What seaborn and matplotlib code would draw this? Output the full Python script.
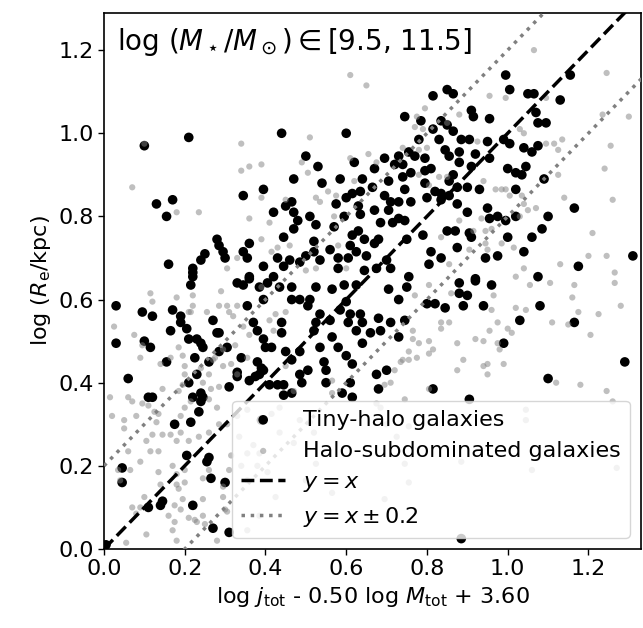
import numpy as np
import matplotlib
matplotlib.use("Agg")
import matplotlib.pyplot as plt
import seaborn as sns

# (x, y): x = log j_tot - 0.50 log M_tot + 3.60, y = log(Re/kpc)
tiny_halo = np.array([
    (0.10, 0.97), (0.21, 0.99), (0.44, 1.00), (0.60, 1.00), (0.50, 0.945), (0.53, 0.92),
    (0.62, 0.93), (0.47, 0.89), (0.54, 0.88), (0.585, 0.89), (0.395, 0.865), (0.345, 0.85),
    (0.13, 0.83), (0.17, 0.84), (0.155, 0.80), (0.42, 0.81), (0.45, 0.825), (0.465, 0.835),
    (0.47, 0.81), (0.48, 0.79), (0.51, 0.80), (0.525, 0.78), (0.47, 0.77), (0.445, 0.75),
    (0.52, 0.74), (0.57, 0.775), (0.575, 0.83), (0.60, 0.845), (0.595, 0.80), (0.615, 0.855),
    (0.635, 0.86), (0.64, 0.89), (0.63, 0.825), (0.635, 0.805), (0.28, 0.745), (0.285, 0.73),
    (0.295, 0.715), (0.30, 0.70), (0.25, 0.71), (0.24, 0.695), (0.22, 0.675), (0.16, 0.685),
    (0.36, 0.735), (0.345, 0.715), (0.355, 0.70), (0.395, 0.68), (0.43, 0.70), (0.445, 0.68),
    (0.46, 0.695), (0.485, 0.69), (0.50, 0.705), (0.52, 0.715), (0.535, 0.695), (0.56, 0.72),
    (0.58, 0.70), (0.605, 0.70), (0.58, 0.675), (0.61, 0.73), (0.625, 0.715), (0.615, 0.755),
    (0.63, 0.765), (0.645, 0.745), (0.65, 0.705), (0.645, 0.67), (0.36, 0.655), (0.42, 0.655),
    (0.995, 1.14), (1.155, 1.14), (1.005, 1.105), (0.85, 1.105), (0.865, 1.095), (0.815, 1.09),
    (1.05, 1.095), (1.065, 1.095), (1.13, 1.08), (0.91, 1.055), (0.915, 1.04), (0.955, 1.035),
    (0.745, 1.04), (1.07, 1.05), (1.075, 1.025), (1.095, 1.025), (0.785, 1.03), (0.835, 1.03),
    (0.85, 1.02), (0.815, 1.01), (0.865, 1.005), (0.885, 0.985), (0.905, 0.985), (0.83, 0.985),
    (0.78, 0.985), (0.95, 0.98), (0.99, 0.985), (1.005, 0.975), (1.075, 0.97), (1.04, 0.965),
    (1.06, 0.955), (0.755, 0.955), (0.77, 0.945), (0.73, 0.945), (0.795, 0.94), (0.845, 0.96),
    (0.855, 0.945), (0.88, 0.955), (0.88, 0.93), (0.92, 0.95), (0.91, 0.92), (0.955, 0.94),
    (1.045, 0.92), (1.00, 0.915), (1.02, 0.905), (1.035, 0.90), (1.09, 0.89), (0.81, 0.915),
    (0.795, 0.91), (0.76, 0.905), (0.74, 0.925), (0.72, 0.925), (0.67, 0.915), (0.695, 0.94),
    (0.74, 0.895), (0.705, 0.885), (0.865, 0.90), (0.855, 0.885), (0.795, 0.88), (0.80, 0.845),
    (0.82, 0.86), (0.835, 0.855), (0.835, 0.84), (0.855, 0.85), (0.875, 0.83), (0.90, 0.81),
    (0.875, 0.87), (0.90, 0.87), (0.93, 0.865), (1.02, 0.865), (0.95, 0.82), (0.955, 0.795),
    (0.975, 0.80), (0.995, 0.79), (1.02, 0.80), (1.10, 0.80), (1.165, 0.82), (1.31, 0.705),
    (1.175, 0.68), (1.085, 0.77), (1.06, 0.75), (1.04, 0.715), (0.975, 0.705), (0.945, 0.70),
    (0.875, 0.725), (0.91, 0.75), (0.905, 0.76), (0.87, 0.765), (0.85, 0.765), (1.00, 0.75),
    (1.075, 0.655), (0.92, 0.65), (0.81, 0.715), (0.835, 0.70), (0.805, 0.685), (0.755, 0.655),
    (0.71, 0.675), (0.70, 0.695), (0.75, 0.745), (0.745, 0.79), (0.73, 0.795), (0.705, 0.815),
    (0.715, 0.785), (0.685, 0.785), (0.67, 0.815), (0.68, 0.745), (0.67, 0.735), (0.695, 0.85),
    (0.71, 0.835), (0.73, 0.835), (0.76, 0.835), (0.745, 0.865), (0.665, 0.87), (0.79, 0.755),
    (0.675, 0.675), (0.03, 0.585), (0.03, 0.495), (0.06, 0.41), (0.045, 0.195), (0.045, 0.16),
    (0.095, 0.57), (0.12, 0.56), (0.10, 0.50), (0.11, 0.365), (0.12, 0.365), (0.155, 0.45),
    (0.165, 0.525), (0.17, 0.575), (0.19, 0.56), (0.19, 0.545), (0.205, 0.53), (0.21, 0.505),
    (0.23, 0.505), (0.24, 0.495), (0.245, 0.485), (0.225, 0.46), (0.285, 0.475), (0.26, 0.45),
    (0.27, 0.55), (0.285, 0.52), (0.305, 0.485), (0.21, 0.40), (0.22, 0.365), (0.24, 0.375),
    (0.245, 0.365), (0.24, 0.355), (0.235, 0.33), (0.215, 0.305), (0.175, 0.30), (0.205, 0.225),
    (0.255, 0.21), (0.26, 0.22), (0.265, 0.17), (0.30, 0.16), (0.22, 0.105), (0.14, 0.105),
    (0.11, 0.10), (0.145, 0.115), (0.27, 0.05), (0.31, 0.04), (0.31, 0.39), (0.34, 0.46),
    (0.33, 0.415), (0.36, 0.405), (0.355, 0.585), (0.37, 0.545), (0.38, 0.525), (0.395, 0.505),
    (0.40, 0.485), (0.38, 0.45), (0.39, 0.435), (0.395, 0.43), (0.375, 0.415), (0.39, 0.31),
    (0.41, 0.395), (0.43, 0.395), (0.445, 0.395), (0.445, 0.37), (0.465, 0.375), (0.44, 0.545),
    (0.44, 0.52), (0.415, 0.485), (0.45, 0.475), (0.465, 0.455), (0.485, 0.475), (0.485, 0.42),
    (0.49, 0.40), (0.505, 0.43), (0.52, 0.525), (0.525, 0.545), (0.535, 0.565), (0.51, 0.60),
    (0.525, 0.63), (0.535, 0.485), (0.545, 0.45), (0.55, 0.43), (0.55, 0.40), (0.58, 0.485),
    (0.60, 0.465), (0.565, 0.51), (0.56, 0.55), (0.585, 0.575), (0.60, 0.595), (0.605, 0.545),
    (0.625, 0.525), (0.64, 0.545), (0.64, 0.495), (0.615, 0.445), (0.59, 0.375), (0.615, 0.365),
    (0.61, 0.40), (0.465, 0.60), (0.505, 0.585), (0.395, 0.60), (0.385, 0.63), (0.405, 0.64),
    (0.345, 0.635), (0.33, 0.64), (0.215, 0.635), (0.435, 0.63), (0.465, 0.63), (0.485, 0.60),
    (0.565, 0.625), (0.595, 0.635), (0.625, 0.635), (0.61, 0.565), (0.635, 0.565), (1.29, 0.45),
    (1.10, 0.41), (1.165, 0.545), (1.03, 0.55), (1.08, 0.585), (0.99, 0.495), (0.94, 0.585),
    (0.89, 0.585), (0.845, 0.58), (0.82, 0.59), (0.80, 0.59), (0.88, 0.615), (0.90, 0.61),
    (0.88, 0.64), (0.92, 0.645), (0.96, 0.635), (0.815, 0.385), (0.905, 0.36), (0.745, 0.55),
    (0.73, 0.51), (0.70, 0.43), (0.68, 0.385), (0.675, 0.42), (0.71, 0.545), (0.68, 0.555),
    (0.66, 0.52), (0.685, 0.525), (0.705, 0.625), (0.73, 0.60), (0.75, 0.63), (0.885, 0.025),
    (0.005, 0.01), (0.22, 0.665), (0.22, 0.655), (0.36, 0.65), (0.115, 0.485), (0.28, 0.52),
    (0.23, 0.42), (0.33, 0.425), (0.385, 0.42),
])

halo_sub = np.array([
    (0.61, 1.14), (0.65, 1.115), (0.10, 0.975), (0.34, 0.975), (0.51, 0.99), (0.34, 0.91),
    (0.36, 0.92), (0.39, 0.925), (0.49, 0.93), (0.505, 0.905), (0.61, 0.94), (0.07, 0.87),
    (0.18, 0.81), (0.235, 0.81), (0.36, 0.795), (0.39, 0.845), (0.45, 0.84), (0.41, 0.785),
    (0.525, 0.845), (0.535, 0.835), (0.555, 0.86), (0.575, 0.85), (0.62, 0.885), (0.655, 0.95),
    (0.57, 0.80), (0.39, 0.745), (0.415, 0.715), (0.43, 0.725), (0.46, 0.73), (0.33, 0.70),
    (0.305, 0.675), (0.50, 0.67), (0.525, 0.675), (0.60, 0.675), (1.065, 1.20), (1.245, 1.145),
    (0.995, 1.085), (0.955, 1.09), (0.795, 1.06), (0.77, 1.015), (0.85, 1.025), (0.88, 1.045),
    (1.095, 1.085), (1.235, 1.045), (1.30, 1.04), (1.255, 0.97), (1.135, 0.985), (1.115, 0.975),
    (1.095, 0.975), (1.03, 1.01), (1.04, 1.00), (1.24, 0.915), (1.125, 0.96), (1.125, 0.90),
    (1.14, 0.845), (1.26, 0.84), (1.21, 0.76), (1.245, 0.705), (1.20, 0.705), (1.13, 0.685),
    (1.265, 0.665), (1.04, 0.83), (1.05, 0.815), (1.07, 0.82), (1.015, 0.725), (0.985, 0.735),
    (0.96, 0.77), (0.935, 0.795), (0.985, 0.865), (0.97, 0.865), (1.005, 0.85), (1.035, 0.85),
    (0.85, 0.895), (0.78, 0.96), (0.80, 0.965), (0.78, 0.90), (0.805, 0.875), (0.88, 0.79),
    (0.915, 0.765), (0.945, 0.735), (1.04, 0.675), (1.02, 0.655), (0.95, 0.72), (0.855, 0.685),
    (0.905, 0.72), (0.74, 0.965), (0.925, 0.98), (0.805, 0.635), (0.86, 0.615), (0.965, 0.61),
    (1.02, 0.58), (1.045, 0.575), (1.11, 0.545), (1.15, 0.54), (1.175, 0.57), (1.16, 0.605),
    (1.205, 0.515), (1.225, 0.565), (1.28, 0.585), (1.265, 0.64), (1.165, 0.635), (1.105, 0.64),
    (1.055, 0.635), (0.96, 0.575), (0.975, 0.545), (1.00, 0.53), (1.01, 0.52), (0.955, 0.525),
    (0.975, 0.495), (0.98, 0.48), (0.92, 0.505), (0.94, 0.50), (0.875, 0.495), (0.89, 0.455),
    (0.94, 0.44), (0.95, 0.445), (0.99, 0.445), (0.95, 0.42), (0.875, 0.43), (1.12, 0.40),
    (1.18, 0.395), (1.245, 0.38), (1.26, 0.355), (1.045, 0.335), (1.045, 0.31), (1.06, 0.19),
    (1.27, 0.195), (0.835, 0.545), (0.855, 0.545), (0.835, 0.53), (0.765, 0.525), (0.765, 0.505),
    (0.78, 0.495), (0.805, 0.50), (0.815, 0.48), (0.805, 0.47), (0.755, 0.475), (0.775, 0.46),
    (0.74, 0.455), (0.755, 0.455), (0.72, 0.43), (0.735, 0.45), (0.71, 0.40), (0.695, 0.395),
    (0.805, 0.385), (0.745, 0.36), (0.675, 0.35), (0.685, 0.34), (0.70, 0.30), (0.725, 0.27),
    (0.755, 0.295), (0.745, 0.205), (0.755, 0.16), (0.695, 0.12), (0.885, 0.21), (0.77, 0.61),
    (0.025, 0.535), (0.015, 0.365), (0.02, 0.32), (0.05, 0.31), (0.05, 0.29), (0.075, 0.515),
    (0.095, 0.49), (0.115, 0.615), (0.12, 0.595), (0.18, 0.605), (0.21, 0.57), (0.22, 0.585),
    (0.255, 0.57), (0.285, 0.585), (0.31, 0.57), (0.32, 0.56), (0.305, 0.585), (0.33, 0.585),
    (0.185, 0.485), (0.165, 0.46), (0.14, 0.445), (0.09, 0.46), (0.145, 0.385), (0.07, 0.355),
    (0.095, 0.35), (0.08, 0.32), (0.125, 0.33), (0.13, 0.305), (0.12, 0.275), (0.145, 0.275),
    (0.165, 0.275), (0.19, 0.28), (0.18, 0.26), (0.21, 0.26), (0.235, 0.27), (0.26, 0.28),
    (0.115, 0.235), (0.135, 0.235), (0.09, 0.21), (0.04, 0.165), (0.065, 0.19), (0.135, 0.185),
    (0.18, 0.18), (0.20, 0.16), (0.245, 0.17), (0.18, 0.155), (0.07, 0.10), (0.08, 0.085),
    (0.16, 0.08), (0.195, 0.12), (0.245, 0.12), (0.19, 0.095), (0.21, 0.075), (0.23, 0.065),
    (0.30, 0.095), (0.295, 0.125), (0.25, 0.06), (0.28, 0.02), (0.18, 0.02), (0.34, 0.20),
    (0.315, 0.225), (0.355, 0.23), (0.335, 0.27), (0.305, 0.30), (0.355, 0.335), (0.28, 0.34),
    (0.26, 0.36), (0.19, 0.32), (0.20, 0.34), (0.215, 0.355), (0.20, 0.44), (0.195, 0.465),
    (0.24, 0.435), (0.27, 0.455), (0.295, 0.44), (0.315, 0.445), (0.345, 0.535), (0.36, 0.515),
    (0.42, 0.525), (0.425, 0.565), (0.45, 0.57), (0.41, 0.55), (0.45, 0.44), (0.47, 0.38),
    (0.415, 0.325), (0.435, 0.28), (0.385, 0.23), (0.38, 0.20), (0.355, 0.165), (0.405, 0.185),
    (0.425, 0.125), (0.385, 0.08), (0.355, 0.045), (0.50, 0.165), (0.47, 0.255), (0.52, 0.28),
    (0.485, 0.31), (0.51, 0.305), (0.565, 0.405), (0.565, 0.375), (0.525, 0.205), (0.565, 0.135),
    (0.22, 0.61), (0.29, 0.62), (0.215, 0.57), (0.39, 0.63), (0.20, 0.42), (0.26, 0.42),
    (0.275, 0.46), (0.295, 0.48), (0.325, 0.49), (0.33, 0.42), (0.355, 0.46), (0.06, 0.365),
    (0.185, 0.38), (0.265, 0.385), (0.195, 0.395), (0.245, 0.40), (0.285, 0.39), (0.11, 0.345),
    (0.135, 0.325), (0.105, 0.26), (0.06, 0.235), (0.035, 0.19), (0.17, 0.20), (0.20, 0.19),
    (0.26, 0.19), (0.31, 0.19), (0.14, 0.155), (0.185, 0.145), (0.10, 0.125), (0.09, 0.10),
    (0.175, 0.105), (0.245, 0.08), (0.225, 0.07), (0.175, 0.065), (0.105, 0.035), (0.17, 0.045),
    (0.055, 0.015), (0.285, 0.30), (0.295, 0.15), (0.305, 0.09), (0.675, 0.93), (0.58, 0.73),
    (0.775, 1.04), (0.79, 1.01), (0.995, 0.865), (0.94, 0.885), (0.83, 0.895), (0.945, 0.765),
    (1.03, 0.80), (0.835, 0.75), (0.33, 0.32), (0.37, 0.25), (0.435, 0.34),
])

offset = 0.2
line_x = [0.0, 1.4]

sns.set_style("ticks")
plt.rcParams["font.family"] = ["DejaVu Sans"]
plt.rcParams["font.size"] = 16
plt.rcParams["mathtext.fontset"] = "dejavusans"
for key in ["text.color", "axes.labelcolor", "xtick.color", "ytick.color", "axes.edgecolor"]:
    plt.rcParams[key] = "black"

fig = plt.figure(figsize=(6.43, 6.28), dpi=100)
ax = fig.add_axes([0.1617, 0.1258, 0.8351, 0.854])

sns.scatterplot(x=tiny_halo[:, 0], y=tiny_halo[:, 1], ax=ax, color="k", s=48,
                edgecolor="none", label="Tiny-halo galaxies", zorder=2)
sns.scatterplot(x=halo_sub[:, 0], y=halo_sub[:, 1], ax=ax, color="gray", alpha=0.5, s=20,
                edgecolor="none", label="Halo-subdominated galaxies", zorder=3)

ax.plot(line_x, line_x, ls="--", color="k", lw=2.5, label=r"$y=x$", zorder=4)
ax.plot(line_x, [v + offset for v in line_x], ls=":", color="gray", lw=2.5,
        label=r"$y=x\pm0.2$", zorder=4)
ax.plot(line_x, [v - offset for v in line_x], ls=":", color="gray", lw=2.5, zorder=4)

ax.set_xlim(0, 1.33)
ax.set_ylim(0, 1.29)
ax.set_xticks([0.0, 0.2, 0.4, 0.6, 0.8, 1.0, 1.2])
ax.set_yticks([0.0, 0.2, 0.4, 0.6, 0.8, 1.0, 1.2])
ax.tick_params(labelsize=16, direction="out", length=4, width=1, colors="black")
for sp in ax.spines.values():
    sp.set_linewidth(1.2)
    sp.set_color("k")

ax.set_xlabel(r"log $j_{\rm tot}$ - 0.50 log $M_{\rm tot}$ + 3.60", fontsize=16)
ax.set_ylabel(r"log ($R_{\rm e}$/kpc)", fontsize=16)
ax.text(0.025, 0.975, r"log ($M_\star$/$M_\odot$)$\in$[9.5, 11.5]", transform=ax.transAxes,
        ha="left", va="top", fontsize=20)

ax.legend(loc="lower right", fontsize=16)

fig.savefig("out.png", dpi=100)
